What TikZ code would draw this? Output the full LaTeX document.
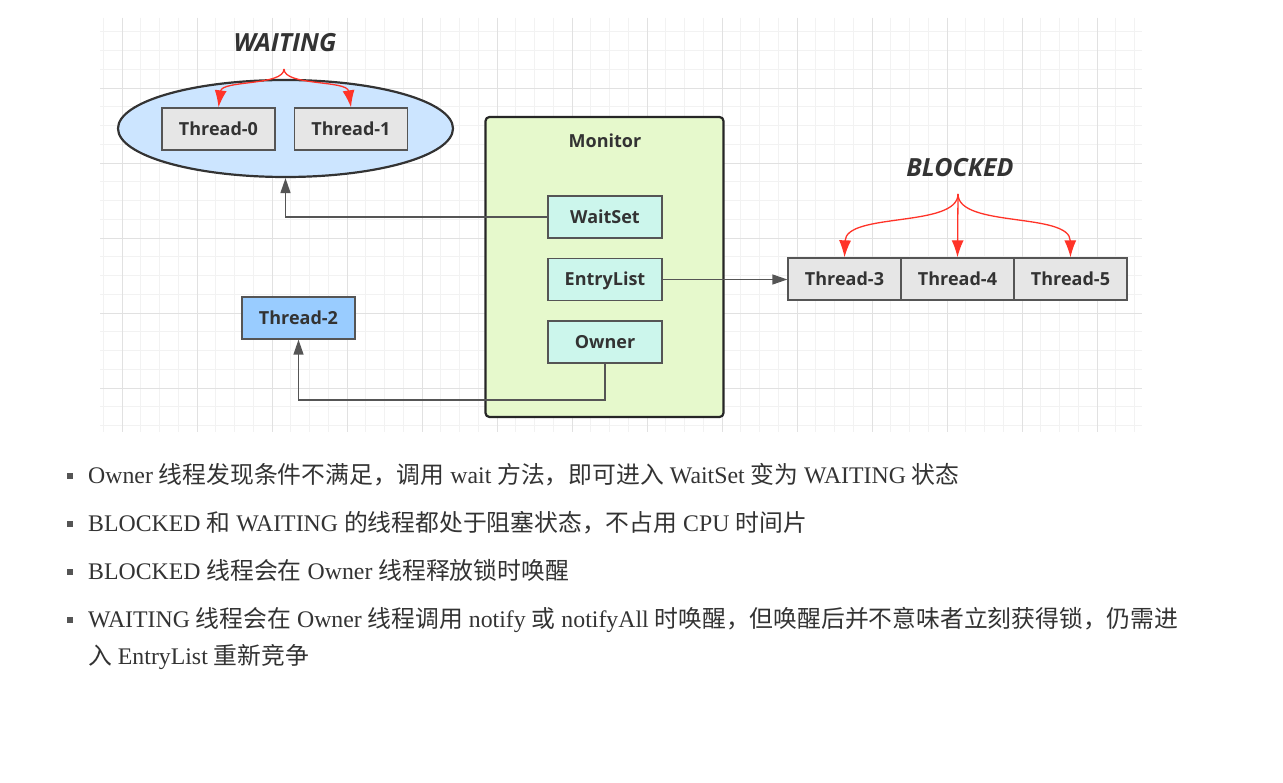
\documentclass[tikz,border=0pt]{standalone}
\usepackage{fontspec}
\setmainfont{Liberation Serif}
\setsansfont{Open Sans}
\newfontfamily\cjk{Noto Sans CJK SC}
\usetikzlibrary{arrows.meta,shapes.geometric}
\definecolor{ellfill}{RGB}{204,229,255}
\definecolor{thgrey}{RGB}{230,230,230}
\definecolor{t2fill}{RGB}{153,204,255}
\definecolor{monfill}{RGB}{230,249,204}
\definecolor{cyanfill}{RGB}{204,246,236}
\definecolor{redarr}{RGB}{255,51,40}
\definecolor{lineg}{RGB}{85,85,85}
\definecolor{txt}{RGB}{51,51,51}
\definecolor{gridminor}{RGB}{242,242,242}
\definecolor{gridmajor}{RGB}{225,225,225}
\newcommand\zh[1]{{\cjk #1}}
\begin{document}
\begin{tikzpicture}[x=1pt,y=-1pt,
  box/.style={draw=lineg,line width=1.3pt,minimum width=113pt,minimum height=42pt,inner sep=0pt,
    text height=13pt,text depth=0pt,
    font=\sffamily\bfseries\fontsize{18}{21}\selectfont,text=txt},
  greybox/.style={box,fill=thgrey},
  cyanbox/.style={box,fill=cyanfill,minimum width=114pt},
  statelbl/.style={font=\sffamily\bfseries\itshape\fontsize{25}{28}\selectfont,text=txt,inner sep=0pt},
  conn/.style={draw=lineg,line width=1.3pt,-{Triangle[length=15pt,width=10pt]}},
  redc/.style={draw=redarr,line width=1.3pt,-{Latex[length=17pt,width=12pt]}},
  bodytxt/.style={anchor=base west,inner sep=0pt,text=txt,font=\fontsize{23.8}{28}\selectfont},
  bullet/.style={fill=lineg}
]
\useasboundingbox (0,0) rectangle (1283,783);
\fill[white] (0,0) rectangle (1283,783);
% grid
\begin{scope}
\clip (100,18) rectangle (1142,432);
\foreach \i in {0,...,55} {\draw[gridminor,line width=0.8pt] ({103.25+18.75*\i},18) -- ++(0,414);}
\foreach \i in {0,...,21} {\draw[gridminor,line width=0.8pt] (100,{31.75+18.75*\i}) -- ++(1042,0);}
\foreach \i in {0,...,13} {\draw[gridmajor,line width=0.9pt] ({122+75*\i},18) -- ++(0,414);}
\foreach \i in {0,...,4} {\draw[gridmajor,line width=0.9pt] (100,{88+75*\i}) -- ++(1042,0);}
\end{scope}

% WAITING group
\node[ellipse,draw=black!80,line width=2.2pt,fill=ellfill,minimum width=335pt,minimum height=97pt,inner sep=0pt] (ell) at (285.5,128.5) {};
\node[greybox] (t0) at (218.5,129) {Thread-0};
\node[greybox] (t1) at (351,129) {Thread-1};
\node[statelbl] (wlbl) at (285,43) {WAITING};
\coordinate (wtop) at (284,69);

% Monitor
\node[draw=black!85,line width=2.2pt,fill=monfill,rounded corners=4pt,minimum width=238pt,minimum height=300pt,inner sep=0pt] (mon) at (604.5,267) {};
\node[font=\sffamily\bfseries\fontsize{18}{21}\selectfont,text=txt,inner sep=0pt] (monlbl) at (605,141) {Monitor};
\node[cyanbox] (ws) at (605,217) {WaitSet};
\node[cyanbox] (el) at (605,279.5) {EntryList};
\node[cyanbox] (ow) at (605,342) {Owner};

% Thread-2
\node[box,fill=t2fill] (t2) at (298.5,318) {Thread-2};

% BLOCKED group
\node[greybox] (t3) at (844.5,279) {Thread-3};
\node[greybox] (t4) at (957.5,279) {Thread-4};
\node[greybox] (t5) at (1070.5,279) {Thread-5};
\node[statelbl] (blbl) at (960,168) {BLOCKED};
\coordinate (btop) at (958,194);

% connectors
\draw[conn] (ws.west) -| (ell.south);
\draw[conn] (el.east) -- (el.east -| t3.west);
\coordinate (owc) at (605,400);
\draw[conn] (ow.south) -- (owc) -| (t2.south);

\draw[redc] (wtop) .. controls (284,86) and (222,80) .. (t0.north);
\draw[redc] (wtop) .. controls (284,86) and (347,80) .. (t1.north);
\draw[redc] (btop) .. controls (958,228) and (846,212) .. (t3.north);
\draw[redc] (btop) -- (t4.north);
\draw[redc] (btop) .. controls (958,228) and (1070,212) .. (t5.north);

% bullet text
\fill[bullet] (67,473) rectangle (73,479);
\node[bodytxt] (l1) at (88,483) {Owner \zh{线程发现条件不满足，调用} wait \zh{方法，即可进入} WaitSet \zh{变为} WAITING \zh{状态}};
\fill[bullet] (67,521) rectangle (73,527);
\node[bodytxt] (l2) at (88,531) {BLOCKED \zh{和} WAITING \zh{的线程都处于阻塞状态，不占用} CPU \zh{时间片}};
\fill[bullet] (67,569) rectangle (73,575);
\node[bodytxt] (l3) at (88,579) {BLOCKED \zh{线程会在} Owner \zh{线程释放锁时唤醒}};
\fill[bullet] (67,617) rectangle (73,623);
\node[bodytxt] (l4) at (88,627) {WAITING \zh{线程会在} Owner \zh{线程调用} notify \zh{或} notifyAll \zh{时唤醒，但唤醒后并不意味者立刻获得锁，仍需进}};
\node[bodytxt] (l5) at (88,664) {\zh{入} EntryList \zh{重新竞争}};
\end{tikzpicture}
\end{document}
